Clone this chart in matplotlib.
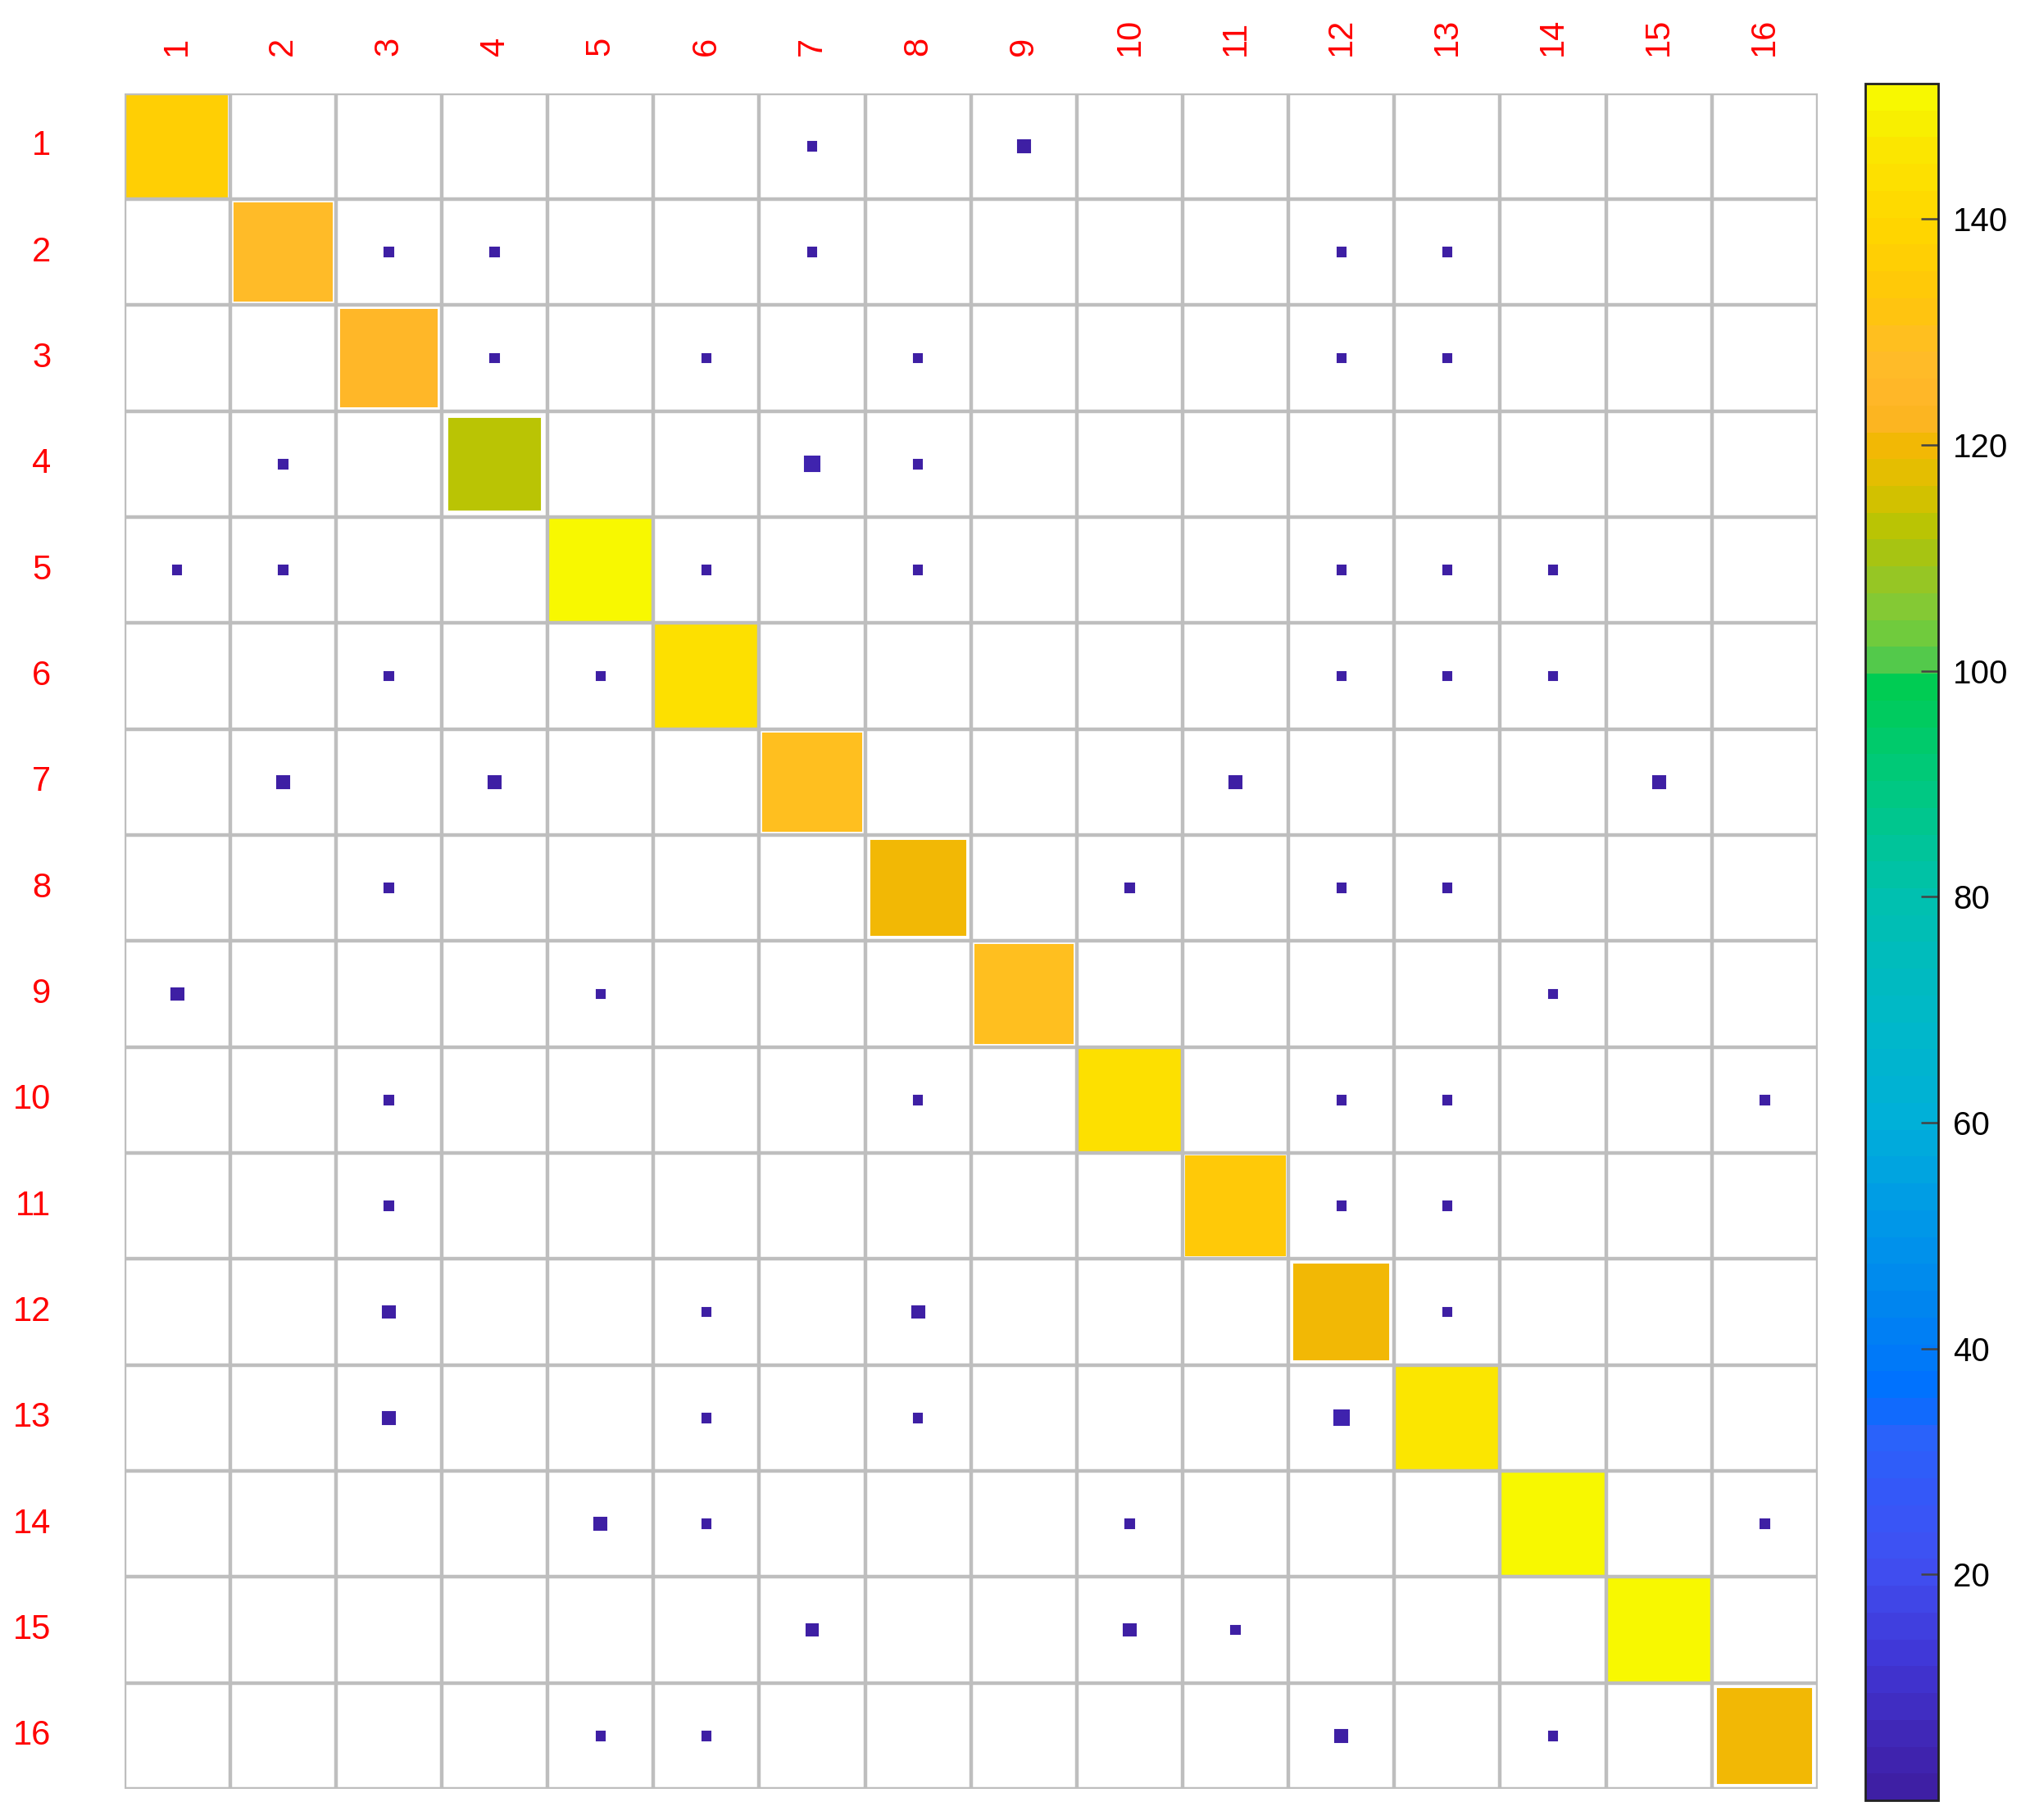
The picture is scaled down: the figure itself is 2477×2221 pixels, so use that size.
import matplotlib
matplotlib.use("Agg")
import matplotlib.pyplot as plt
import numpy as np
from matplotlib.colors import LinearSegmentedColormap, ListedColormap, Normalize
from matplotlib.patches import Rectangle
from matplotlib.cm import ScalarMappable

plt.rcParams['font.family'] = ['Liberation Sans', 'DejaVu Sans']

labels = [str(k) for k in range(1, 17)]

# confusion-style matrix (rows = actual, cols = predicted)
row_1 = [137, 0, 0, 0, 0, 0, 1, 0, 2, 0, 0, 0, 0, 0, 0, 0]
row_2 = [0, 128, 1, 1, 0, 0, 1, 0, 0, 0, 0, 1, 1, 0, 0, 0]
row_3 = [0, 0, 125, 1, 0, 1, 0, 1, 0, 0, 0, 1, 1, 0, 0, 0]
row_4 = [0, 1, 0, 112, 0, 0, 3, 1, 0, 0, 0, 0, 0, 0, 0, 0]
row_5 = [1, 1, 0, 0, 152, 1, 0, 1, 0, 0, 0, 1, 1, 1, 0, 0]
row_6 = [0, 0, 1, 0, 1, 144, 0, 0, 0, 0, 0, 1, 1, 1, 0, 0]
row_7 = [0, 2, 0, 2, 0, 0, 130, 0, 0, 0, 2, 0, 0, 0, 2, 0]
row_8 = [0, 0, 1, 0, 0, 0, 0, 121, 0, 1, 0, 1, 1, 0, 0, 0]
row_9 = [2, 0, 0, 0, 1, 0, 0, 0, 130, 0, 0, 0, 0, 1, 0, 0]
row_10 = [0, 0, 1, 0, 0, 0, 0, 1, 0, 144, 0, 1, 1, 0, 0, 1]
row_11 = [0, 0, 1, 0, 0, 0, 0, 0, 0, 0, 134, 1, 1, 0, 0, 0]
row_12 = [0, 0, 2, 0, 0, 1, 0, 2, 0, 0, 0, 121, 1, 0, 0, 0]
row_13 = [0, 0, 2, 0, 0, 1, 0, 1, 0, 0, 0, 3, 145, 0, 0, 0]
row_14 = [0, 0, 0, 0, 2, 1, 0, 0, 0, 1, 0, 0, 0, 152, 0, 1]
row_15 = [0, 0, 0, 0, 0, 0, 2, 0, 0, 2, 1, 0, 0, 0, 151, 0]
row_16 = [0, 0, 0, 0, 1, 1, 0, 0, 0, 0, 0, 2, 0, 1, 0, 119]

mat = np.array([row_1, row_2, row_3, row_4, row_5, row_6, row_7, row_8,
                row_9, row_10, row_11, row_12, row_13, row_14, row_15, row_16])

# colour ramp
anchor_vals = [0, 5, 12, 20, 26, 31, 35, 43, 51, 60, 69, 80, 90, 99.5,
               100.5, 103, 107, 110.5, 114, 118, 121, 124, 129, 134, 140, 146, 150, 152]
anchor_cols = ['#3E1FA4', '#4028B8', '#4038D8', '#4050F2', '#3558F8', '#2A62FA',
               '#0070FF', '#0084F0', '#0098E8', '#00B0D8', '#00B8C8', '#00C0B0',
               '#00C880', '#00CC50', '#48C850', '#6ACC40', '#8CC830', '#A4C414',
               '#C0C400', '#E0BF00', '#F2B805', '#FFB428', '#FFBC28', '#FFC60A',
               '#FFD500', '#FCE200', '#F8F000', '#F8F800']
vmin, vmax = mat.min(), mat.max()
pos = [(v - anchor_vals[0]) / (anchor_vals[-1] - anchor_vals[0]) for v in anchor_vals]
smooth = LinearSegmentedColormap.from_list('ramp', list(zip(pos, anchor_cols)))
cmap = ListedColormap(smooth(np.linspace(0, 1, 64)))
norm = Normalize(vmin=vmin, vmax=vmax)

fig = plt.figure(figsize=(24.77, 22.21), dpi=100)
ax = fig.add_axes([0.0612, 0.0171, 0.8342, 0.9317])
n = len(labels)
ax.set_xlim(0.5, n + 0.5)
ax.set_ylim(n + 0.5, 0.5)
ax.set_xticks([])
ax.set_yticks([])
for s in ax.spines.values():
    s.set_visible(False)

# squares, side ~ sqrt(value)
for i in range(n):
    for j in range(n):
        v = mat[i, j]
        if v <= 0:
            continue
        side = np.sqrt((v - vmin) / (vmax - vmin))
        c = cmap(norm(v))
        ax.add_patch(Rectangle((j + 1 - side / 2, i + 1 - side / 2), side, side,
                               facecolor=c, edgecolor=c,
                               linewidth=1.5, zorder=2))

for k in range(n + 1):
    ax.axvline(k + 0.5, color='#BEBEBE', lw=3.2, zorder=3)
    ax.axhline(k + 0.5, color='#BEBEBE', lw=3.2, zorder=3)

for k, lab in enumerate(labels, start=1):
    ax.text(-0.19, k, lab, ha='right', va='center', color='red', fontsize=30)
    ax.text(k, 0.15, lab, ha='center', va='bottom', rotation=90,
            color='red', fontsize=30)

cax = fig.add_axes([0.9189, 0.0108, 0.0359, 0.9433])
cb = fig.colorbar(ScalarMappable(norm=norm, cmap=cmap), cax=cax)
cb.set_ticks([20, 40, 60, 80, 100, 120, 140])
cb.outline.set_linewidth(2)
cb.outline.set_edgecolor('#222222')
cax.tick_params(direction='in', length=15, width=1.8, color='#444444',
                labelsize=29, pad=13)

fig.savefig('out.png', dpi=100)
